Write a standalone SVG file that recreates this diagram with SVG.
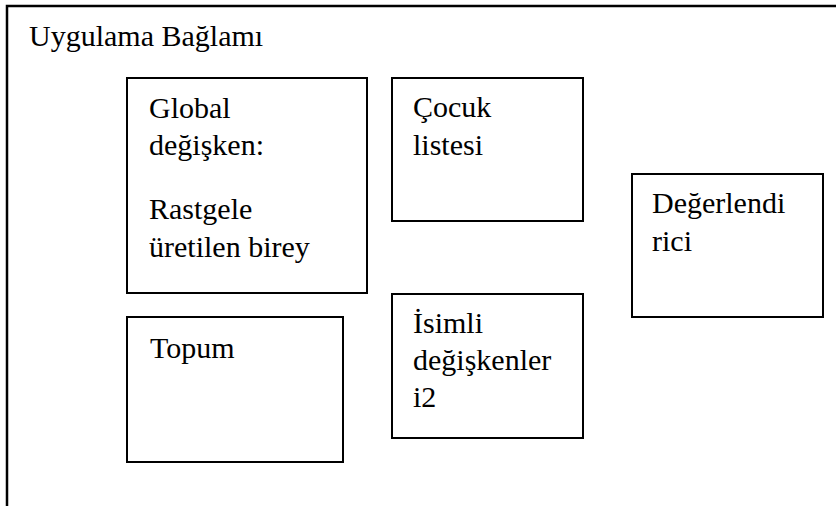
<svg xmlns="http://www.w3.org/2000/svg" width="836" height="506" viewBox="0 0 836 506">
<style>
.box{fill:#fff;stroke:#000;stroke-width:2}
</style>
<rect width="836" height="506" fill="#fff"/>
<g id="context" font-size="30">
<path d="M7 506V6H836" fill="none" stroke="#000" stroke-width="2.5"/>
<text x="29" y="46" font-family="serif" style="font-family:serif">Uygulama Bağlamı</text>
</g>
<g id="global" font-size="30">
<rect class="box" x="127" y="78" width="240" height="215"/>
<text x="149" y="118" font-family="serif" style="font-family:serif">Global</text>
<text x="149" y="155" font-family="serif" style="font-family:serif">değişken:</text>
<text x="149" y="219" font-family="serif" style="font-family:serif">Rastgele</text>
<text x="149" y="257" font-family="serif" style="font-family:serif">üretilen birey</text>
</g>
<g id="cocuk" font-size="30">
<rect class="box" x="392" y="78" width="191" height="143"/>
<text x="413" y="117" font-family="serif" style="font-family:serif">Çocuk</text>
<text x="413" y="155" font-family="serif" style="font-family:serif">listesi</text>
</g>
<g id="degerlendirici" font-size="30">
<rect class="box" x="632" y="174" width="191" height="143"/>
<text x="652" y="213" font-family="serif" style="font-family:serif">Değerlendi</text>
<text x="652" y="251" font-family="serif" style="font-family:serif">rici</text>
</g>
<g id="topum" font-size="30">
<rect class="box" x="127" y="317" width="216" height="145"/>
<text x="150" y="358" font-family="serif" style="font-family:serif">Topum</text>
</g>
<g id="isimli" font-size="30">
<rect class="box" x="392" y="294" width="191" height="144"/>
<text x="413" y="333" font-family="serif" style="font-family:serif">İsimli</text>
<text x="413" y="370" font-family="serif" style="font-family:serif">değişkenler</text>
<text x="413" y="407" font-family="serif" style="font-family:serif">i2</text>
</g>
<g id="connectors"/>
</svg>
